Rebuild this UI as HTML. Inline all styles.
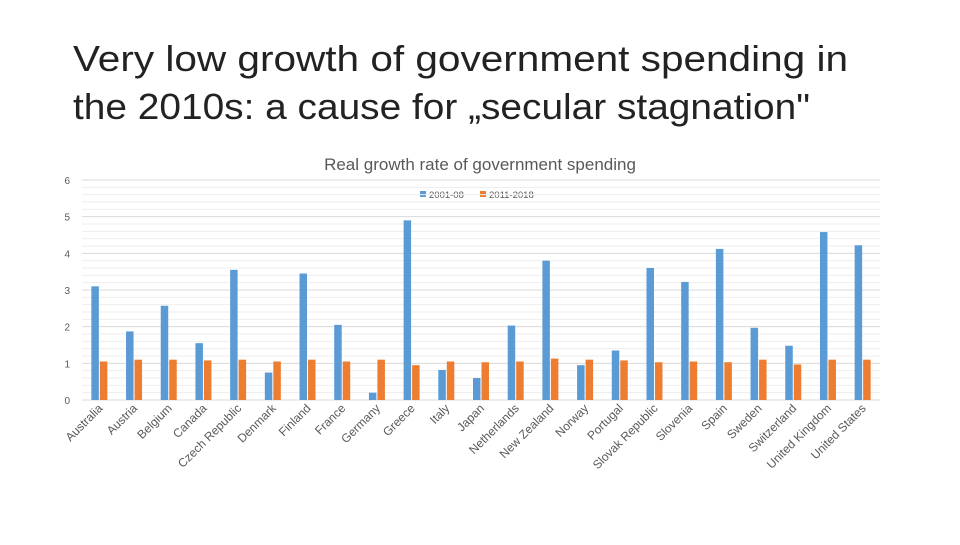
<!DOCTYPE html>
<html><head><meta charset="utf-8"><style>
body{margin:0;background:#fff;width:960px;height:540px;overflow:hidden;font-family:"Liberation Sans",sans-serif}
</style></head><body>
<svg id="chart" width="960" height="540" xmlns="http://www.w3.org/2000/svg" font-family="Liberation Sans, sans-serif">
<text x="73" y="71" font-size="36" fill="#222" textLength="775" lengthAdjust="spacingAndGlyphs">Very low growth of government spending in</text>
<text x="73" y="119" font-size="36" fill="#222" textLength="737" lengthAdjust="spacingAndGlyphs">the 2010s: a cause for „secular stagnation"</text>
<text x="480" y="170" font-size="17" fill="#595959" text-anchor="middle">Real growth rate of government spending</text>
<g>
<rect x="420" y="191" width="6" height="6" fill="#5b9bd5"/><text x="429" y="198" font-size="9.5" fill="#595959">2001-08</text>
<rect x="480" y="191" width="6" height="6" fill="#ed7d31"/><text x="489" y="198" font-size="9.5" fill="#595959">2011-2018</text>
</g>
<g id="grid"></g><g id="bars"></g><g id="labels"></g>
</svg>
<script>
const categories=["Australia","Austria","Belgium","Canada","Czech Republic","Denmark","Finland","France","Germany","Greece","Italy","Japan","Netherlands","New Zealand","Norway","Portugal","Slovak Republic","Slovenia","Spain","Sweden","Switzerland","United Kingdom","United States"];
const s2001=[3.1,1.87,2.57,1.55,3.55,0.75,3.45,2.05,0.2,4.9,0.82,0.6,2.03,3.8,0.95,1.35,3.6,3.22,4.12,1.97,1.48,4.58,4.22];
const s2011=[1.05,1.1,1.1,1.08,1.1,1.05,1.1,1.05,1.1,0.95,1.05,1.03,1.05,1.13,1.1,1.08,1.03,1.05,1.03,1.1,0.97,1.1,1.1];
const yTicks=[0,1,2,3,4,5,6];
const NS="http://www.w3.org/2000/svg";
const x0=82,x1=880,yB=400,yT=180,yMax=6;
const y=v=>yB-(v/yMax)*(yB-yT);
const bw=(x1-x0)/categories.length;
const cx=i=>x0+bw*(i+0.5);
function mk(t,a,p){const e=document.createElementNS(NS,t);for(const k in a)e.setAttribute(k,a[k]);p.appendChild(e);return e;}
const grid=document.getElementById('grid'),bars=document.getElementById('bars'),labels=document.getElementById('labels');
for(let v=0;v<=yMax+1e-9;v+=0.2){const major=Math.abs(v-Math.round(v))<1e-6;
const l=mk('line',{x1:x0,x2:x1,y1:y(v),y2:y(v),stroke:major?'#d9d9d9':'#eeeeee','stroke-width':1},grid);

}
yTicks.forEach(t=>{const e=mk('text',{x:70,y:y(t)+4,'font-size':10,fill:'#595959','text-anchor':'end'},grid);e.textContent=t;

});
categories.forEach((c,i)=>{
const b1=mk('rect',{x:cx(i)-8,y:y(s2001[i]),width:7.5,height:yB-y(s2001[i]),fill:'#5b9bd5'},bars);


const b2=mk('rect',{x:cx(i)+0.5,y:y(s2011[i]),width:7.5,height:yB-y(s2011[i]),fill:'#ed7d31'},bars);


const t=mk('text',{x:cx(i)+4,y:409,'font-size':12,fill:'#595959','text-anchor':'end',transform:`rotate(-45 ${cx(i)+4} 409)`},labels);
t.textContent=c;


});
</script>
</body></html>
